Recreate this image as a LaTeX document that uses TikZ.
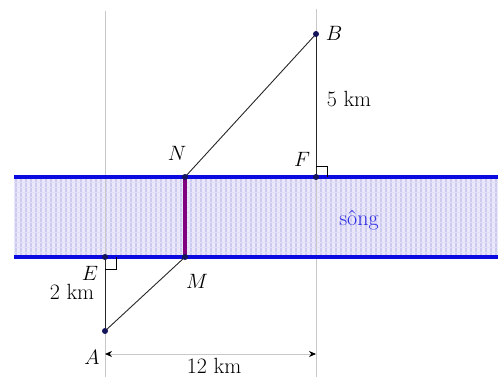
\documentclass[tikz,border=0pt]{standalone}
\usetikzlibrary{arrows.meta}
\definecolor{riverfill}{RGB}{234,232,250}
\definecolor{riverstripe}{RGB}{205,202,240}
\definecolor{riverblue}{RGB}{10,10,225}
\definecolor{guide}{RGB}{200,200,200}
\definecolor{dotblue}{RGB}{20,20,90}
\definecolor{segpurple}{RGB}{128,0,128}
\begin{document}
\begin{tikzpicture}[x=1pt,y=-1pt,
  lbl/.style={font=\fontsize{22}{25}\selectfont, inner sep=0pt},
  dot/.style={circle, fill=dotblue, inner sep=0pt, minimum size=6pt},
  guideline/.style={guide, line width=0.8pt},
  seg/.style={black!85, line width=0.9pt},
  bank/.style={riverblue, line width=4.5pt},
  rightmark/.style={black, line width=0.8pt}]
\useasboundingbox (0,0) rectangle (498,377);
% river
\fill[riverfill] (14,177) rectangle (498,257);
\foreach \x in {16,21,...,496} \draw[riverstripe, line width=1.2pt] (\x,179) -- (\x,255);
\foreach \y in {182,187,...,255} \draw[riverstripe!60, line width=0.5pt] (14,\y) -- (498,\y);
% guide lines
\draw[guideline] (105,11) -- (105,377);
\draw[guideline] (316,9) -- (316,377);
% points
\coordinate (A) at (105,331);
\coordinate (E) at (105,257);
\coordinate (M) at (185,257);
\coordinate (N) at (185,177);
\coordinate (F) at (316,177);
\coordinate (B) at (316,34);
\coordinate (L1) at (14,177);
\coordinate (R1) at (498,177);
\coordinate (L2) at (14,257);
\coordinate (R2) at (498,257);
\coordinate (D1) at (105,354);
\coordinate (D2) at (316,354);
% banks
\draw[bank] (L1) -- (R1);
\draw[bank] (L2) -- (R2);
% segments
\draw[segpurple, line width=4.5pt] (M) -- (N);
\draw[seg] (A) -- (E);
\draw[seg] (A) -- (M);
\draw[seg] (N) -- (B);
\draw[seg] (B) -- (F);
% right angle marks
\draw[rightmark] (E) ++(11,0) -- ++(0,12) -- ++(-11,0);
\draw[rightmark] (F) ++(11,0) -- ++(0,-11) -- ++(-11,0);
% dimension
\draw[guide, line width=0.8pt, {Stealth[black,length=7pt,width=6pt]}-{Stealth[black,length=7pt,width=6pt]}] (D1) -- (D2);
% dots
\foreach \p in {A,E,M,N,F,B} \node[dot] (d\p) at (\p) {};
% labels
\node[lbl] (lB) at (334,33) {$B$};
\node[lbl] (l5) at (349,99) {5 km};
\node[lbl] (lF) at (302,159) {$F$};
\node[lbl] (lN) at (177,153) {$N$};
\node[lbl] (lE) at (90,273) {$E$};
\node[lbl] (l2) at (72,292) {2 km};
\node[lbl] (lM) at (197,281) {$M$};
\node[lbl] (lA) at (92,357) {$A$};
\node[lbl, anchor=base] (l12) at (214,373.5) {12 km};
\node[lbl, text=riverblue!85!white, anchor=base] (ls) at (359,225) {sông};
\end{tikzpicture}
\end{document}
